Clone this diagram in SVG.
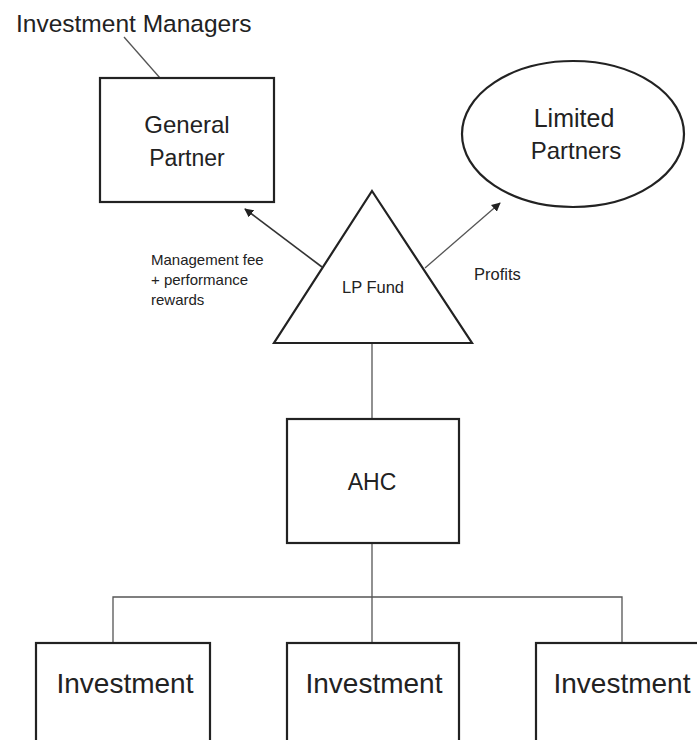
<svg xmlns="http://www.w3.org/2000/svg" width="697" height="740" viewBox="0 0 697 740">
<defs>
<style>
.shape{fill:#fff;stroke:#222;stroke-width:2.2}
.conn{fill:none;stroke:#555;stroke-width:1.3}
.arrow{fill:none;stroke:#333;stroke-width:1.6}
text{font-family:"Liberation Sans",Arial,sans-serif;fill:#222}
.c{text-anchor:middle}
</style>
<marker id="ah" viewBox="0 0 10 10" refX="9" refY="5" markerWidth="9" markerHeight="9" markerUnits="userSpaceOnUse" orient="auto">
<path d="M0,0 L10,5 L0,10 z" fill="#222"/>
</marker>
</defs>
<rect width="697" height="740" fill="#fff"/>
<g id="connectors">
<line class="conn" x1="124" y1="37" x2="160" y2="78"/>
<line class="conn" x1="372" y1="343" x2="372" y2="419"/>
<line class="conn" x1="372" y1="543" x2="372" y2="643"/>
<polyline class="conn" points="113,643 113,597 622,597 622,643"/>
<line class="arrow" x1="322" y1="267" x2="245" y2="209" marker-end="url(#ah)"/>
<line class="conn" x1="425" y1="268" x2="500" y2="203" marker-end="url(#ah)"/>
</g>
<g id="investment-managers">
<text x="16" y="32" font-size="24.5">Investment Managers</text>
</g>
<g id="general-partner">
<rect class="shape" x="100" y="78" width="174" height="124"/>
<text class="c" x="187" y="133" font-size="24">General</text>
<text class="c" x="187" y="166" font-size="23">Partner</text>
</g>
<g id="limited-partners">
<ellipse class="shape" cx="573" cy="134" rx="111" ry="73"/>
<text class="c" x="574" y="127" font-size="25">Limited</text>
<text class="c" x="576" y="159" font-size="24">Partners</text>
</g>
<g id="lp-fund">
<polygon class="shape" points="372,191 472,343 274,343"/>
<text class="c" x="373" y="293" font-size="16.5">LP Fund</text>
</g>
<g id="mgmt-label">
<text x="151" y="265" font-size="15">Management fee</text>
<text x="151" y="285" font-size="15">+ performance</text>
<text x="151" y="305" font-size="15">rewards</text>
</g>
<g id="profits-label">
<text x="474" y="280" font-size="16.5">Profits</text>
</g>
<g id="ahc">
<rect class="shape" x="287" y="419" width="172" height="124"/>
<text class="c" x="372" y="490" font-size="23">AHC</text>
</g>
<g id="investment-1">
<rect class="shape" x="36" y="643" width="174" height="110"/>
<text class="c" x="125" y="693" font-size="28">Investment</text>
</g>
<g id="investment-2">
<rect class="shape" x="287" y="643" width="172" height="110"/>
<text class="c" x="374" y="693" font-size="28">Investment</text>
</g>
<g id="investment-3">
<rect class="shape" x="536" y="643" width="180" height="110"/>
<text class="c" x="622" y="693" font-size="28">Investment</text>
</g>
</svg>
